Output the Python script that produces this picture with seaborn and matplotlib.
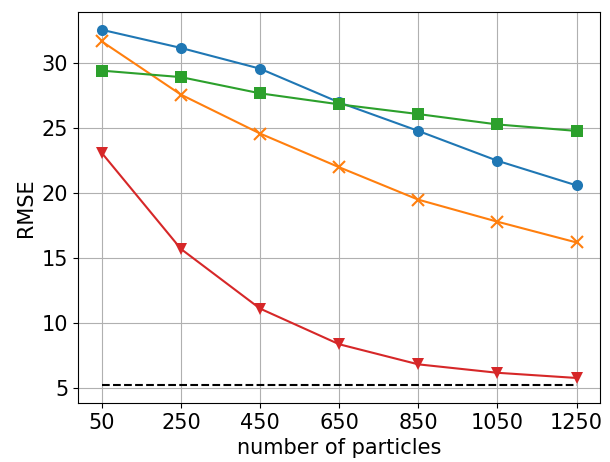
import numpy as np
import matplotlib
matplotlib.use('Agg')
import matplotlib.pyplot as plt
import pandas as pd
import seaborn as sns

# values
particles = [50, 250, 450, 650, 850, 1050, 1250]
blue = [32.6, 31.2, 29.6, 27.0, 24.8, 22.5, 20.6]
orange = [31.7, 27.6, 24.6, 22.0, 19.5, 17.8, 16.2]
green = [29.45, 28.95, 27.7, 26.85, 26.1, 25.3, 24.8]
red = [23.1, 15.7, 11.1, 8.35, 6.8, 6.15, 5.75]
baseline = [5.2] * len(particles)

plt.rcParams['font.size'] = 15

fig = plt.figure(figsize=(6.1, 4.62), dpi=100)
ax = fig.add_axes([0.128, 0.128, 0.856, 0.846])

sns.lineplot(x=particles, y=blue, color='tab:blue', marker='o', markersize=8,
             markeredgewidth=0, ax=ax)
sns.lineplot(x=particles, y=orange, color='tab:orange', marker='x', markersize=9,
             markeredgewidth=1.5, markeredgecolor='tab:orange', ax=ax)
sns.lineplot(x=particles, y=green, color='tab:green', marker='s', markersize=8,
             markeredgewidth=0, ax=ax)
sns.lineplot(x=particles, y=red, color='tab:red', marker='v', markersize=9,
             markeredgewidth=0, ax=ax)
sns.lineplot(x=particles, y=baseline, color='black', linestyle='--', ax=ax)

ax.set_xticks(particles)
ax.set_yticks([5, 10, 15, 20, 25, 30])
ax.set_xlabel('number of particles')
ax.set_ylabel('RMSE')
ax.grid(True)

fig.savefig('out.png', dpi=100)
